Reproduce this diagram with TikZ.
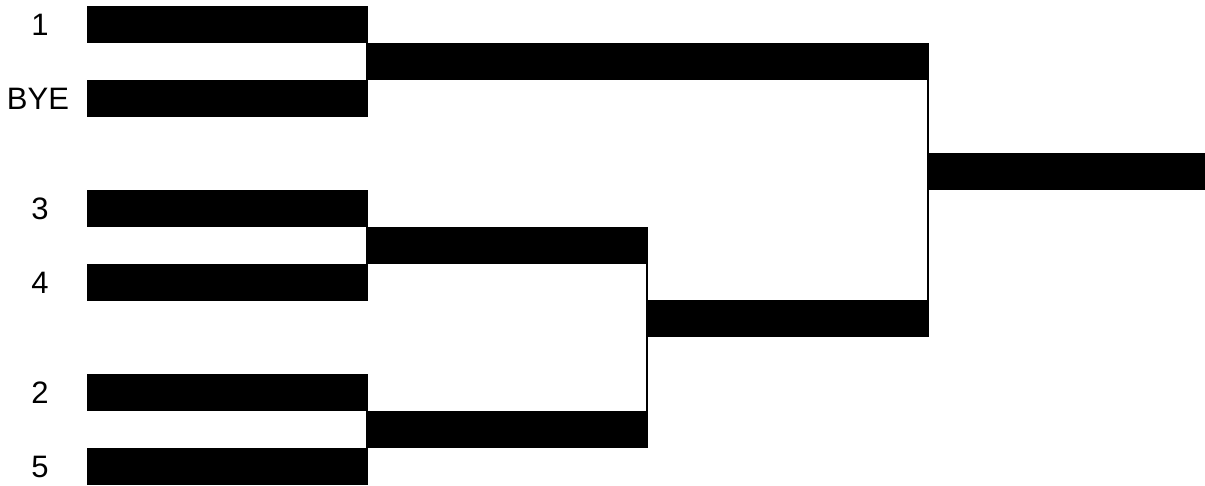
\documentclass[tikz,border=0pt]{standalone}
\usepackage{fontspec}
\setmainfont{Liberation Sans}
\begin{document}
\begin{tikzpicture}[x=1pt,y=-1pt,
  bar/.style={fill=black,draw=none,rectangle,inner sep=0pt,anchor=north west,minimum height=37pt},
  rone/.style={bar,minimum width=281pt},
  lbl/.style={font=\fontsize{31}{36}\selectfont,inner sep=0pt,anchor=center},
  link/.style={line width=2pt,black}]
\useasboundingbox (0,0) rectangle (1205,486);
% round 1
\node[rone] (a1) at (87,6) {};
\node[rone] (a2) at (87,80) {};
\node[rone] (a3) at (87,190) {};
\node[rone] (a4) at (87,264) {};
\node[rone] (a5) at (87,374) {};
\node[rone] (a6) at (87,448) {};
% round 2
\node[bar,minimum width=563pt] (b1) at (366,43) {};
\node[bar,minimum width=282pt] (b2) at (366,227) {};
\node[bar,minimum width=282pt] (b3) at (366,411) {};
% round 3
\node[bar,minimum width=281pt] (c1) at (648,300) {};
% final
\node[bar,minimum width=277pt] (d1) at (928,153) {};
% connectors
\draw[link] ([xshift=-1pt]b2.south east) -- ([xshift=-1pt]b3.north east);
\draw[link] ([xshift=-1pt]b1.south east) -- ([xshift=-1pt]c1.north east);
% labels
\node[lbl] (l1) at (40,25) {1};
\node[lbl] (l2) at (38,99) {BYE};
\node[lbl] (l3) at (40,209) {3};
\node[lbl] (l4) at (40,283) {4};
\node[lbl] (l5) at (40,393) {2};
\node[lbl] (l6) at (40,467) {5};
\end{tikzpicture}
\end{document}
